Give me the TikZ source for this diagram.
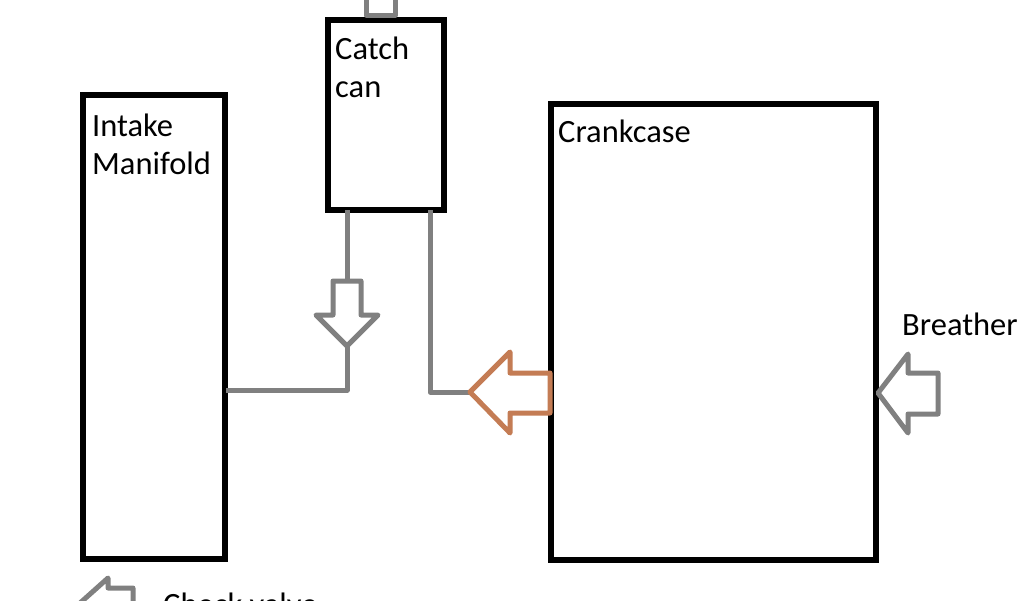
\documentclass[tikz,border=0pt]{standalone}
\usepackage{fontspec}
\setmainfont{Carlito}
\definecolor{pipe}{RGB}{128,128,128}
\definecolor{valve}{RGB}{196,124,84}
\tikzset{
  box/.style={draw=black, line width=6pt, rectangle, inner sep=0pt, fill=none},
  lbl/.style={anchor=base west, inner sep=0pt, font=\fontsize{32.5}{38}\selectfont},
  pipeline/.style={draw=pipe, line width=5pt, line join=round},
  garrow/.style={draw=pipe, line width=5pt, line join=round},
  oarrow/.style={draw=valve, line width=5pt, line join=round}
}
\begin{document}
\begin{tikzpicture}[x=1pt,y=-1pt]
\useasboundingbox (0,0) rectangle (1024,600);
\clip (0,0) rectangle (1024,600);
\fill[white] (0,0) rectangle (1024,600);
% boxes
\node[box, minimum width=142pt, minimum height=464pt] (intake) at (154,327) {};
\node[box, minimum width=116pt, minimum height=190pt] (catch) at (386,115) {};
\node[box, minimum width=325pt, minimum height=456pt] (crank) at (713.5,332) {};
% labels
\node[lbl] (tint1) at (92,136) {Intake};
\node[lbl] (tint2) at (92,174) {Manifold};
\node[lbl] (tcat1) at (335,59) {Catch};
\node[lbl] (tcat2) at (335,97) {can};
\node[lbl] (tcrank) at (558,142) {Crankcase};
\node[lbl] (tbreath) at (902,335) {Breather};
\node[lbl] (tcheck) at (163,615) {Check valve};
% catch can outlet on top
\draw[pipeline] (366,-10) -- (366,15) -- (395,15) -- (395,-10);
% named points
\coordinate (c1) at (347,210);
\coordinate (d1) at (347,281);
\coordinate (dtip) at (347,346);
\coordinate (j1) at (347,390);
\coordinate (m1) at (226,390);
\coordinate (c2) at (430,210);
\coordinate (k2) at (430,392);
\coordinate (otip) at (470,392);
% pipes
\draw[pipeline] (c1) -- (d1);
\draw[pipeline] (dtip) -- (j1) -- (m1);
\draw[pipeline] (c2) -- (k2) -- (otip);
% down arrow
\draw[garrow] (333,281) -- (361,281) -- (361,315) -- (378,315) -- (dtip) -- (316,315) -- (333,315) -- cycle;
% orange arrow into crankcase side
\draw[oarrow] (otip) -- (510,352) -- (510,373) -- (550,373) -- (550,413) -- (510,413) -- (510,433) -- cycle;
% breather arrow
\draw[garrow] (878,393) -- (908,354) -- (908,373) -- (938,373) -- (938,414) -- (908,414) -- (908,433) -- cycle;
% check valve arrow (cut off)
\draw[garrow] (70,612) -- (108,578) -- (108,588) -- (133,588) -- (133,630) -- (108,630) -- (108,646) -- cycle;
\end{tikzpicture}
\end{document}
